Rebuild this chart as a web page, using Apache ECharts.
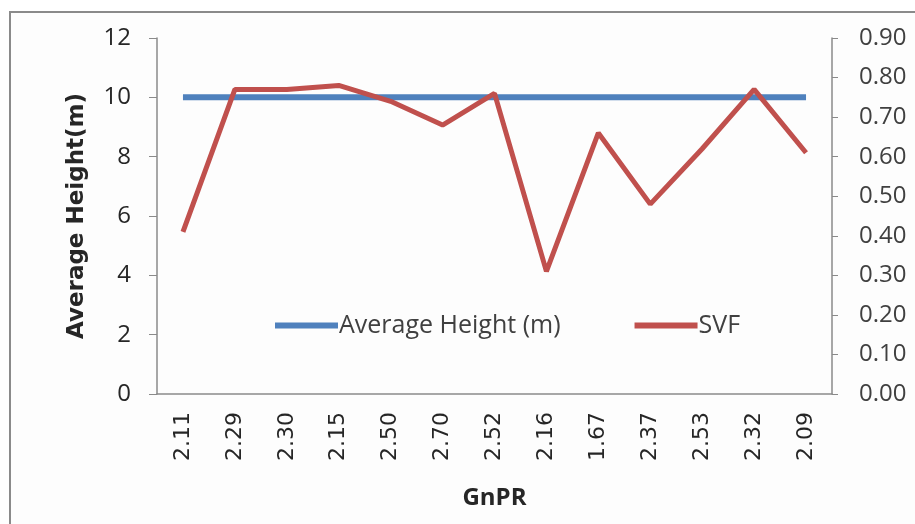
<!DOCTYPE html>
<html>
<head>
<meta charset="utf-8">
<script src="https://cdn.jsdelivr.net/npm/echarts@6/dist/echarts.min.js"></script>
<style>
html,body{margin:0;padding:0;background:#fff;}
#c{width:915px;height:524px;}
</style>
</head>
<body>
<div id="c"></div>
<script>
var categories = ['2.11','2.29','2.30','2.15','2.50','2.70','2.52','2.16','1.67','2.37','2.53','2.32','2.09'];
var avgHeight = [10,10,10,10,10,10,10,10,10,10,10,10,10];
var svf = [0.41,0.77,0.77,0.78,0.74,0.68,0.76,0.31,0.66,0.48,0.62,0.77,0.61];
var leftTicks = [0,12,2];
var rightTicks = [0,0.9,0.1];

var narrow = "'Liberation Sans Narrow','Open Sans',sans-serif";
var chart = echarts.init(document.getElementById('c'), null, {renderer:'canvas'});
chart.setOption({
  backgroundColor:'#ffffff',
  animation:false,
  graphic:[{type:'rect',shape:{x:10,y:12,width:920,height:530},style:{fill:'#fdfdfd',stroke:'#8a8a8a',lineWidth:2},z:-10}],
  grid:{left:157,right:83,top:38,bottom:130,containLabel:false},
  legend:{
    top:308,left:270,
    data:['Average Height (m)','SVF'],
    icon:'rect',itemWidth:63,itemHeight:6,itemGap:74,
    textStyle:{fontFamily:narrow,fontSize:25,color:'#404040',padding:[0,0,0,-4]}
  },
  xAxis:{
    type:'category',data:categories,boundaryGap:true,
    name:'GnPR',nameLocation:'middle',nameGap:92,
    nameTextStyle:{fontFamily:narrow,fontSize:24,fontWeight:'bold',color:'#262626'},
    axisLine:{lineStyle:{color:'#8a8a8a',width:1.5}},
    axisTick:{show:false},
    axisLabel:{rotate:90,margin:18,fontFamily:"'DejaVu Sans',sans-serif",fontSize:22,color:'#262626'}
  },
  yAxis:[{
    type:'value',min:leftTicks[0],max:leftTicks[1],interval:leftTicks[2],
    name:'Average Height(m)',nameLocation:'middle',nameGap:68,nameRotate:90,
    nameTextStyle:{fontFamily:"'DejaVu Sans',sans-serif",fontSize:23,fontWeight:'bold',color:'#262626'},
    axisLine:{show:true,lineStyle:{color:'#8a8a8a',width:1.5}},
    axisTick:{show:true,inside:false,length:8,lineStyle:{color:'#8a8a8a'}},
    splitLine:{show:false},
    axisLabel:{margin:26,fontFamily:narrow,fontSize:24,color:'#262626'}
  },{
    type:'value',min:rightTicks[0],max:rightTicks[1],interval:rightTicks[2],position:'right',
    axisLine:{show:true,lineStyle:{color:'#8a8a8a',width:1.5}},
    axisTick:{show:true,length:6,lineStyle:{color:'#8a8a8a'}},
    splitLine:{show:false},
    axisLabel:{margin:27,fontFamily:narrow,fontSize:24,color:'#404040',
      formatter:function(v){return v.toFixed(2);}}
  }],
  series:[{
    name:'Average Height (m)',type:'line',yAxisIndex:0,data:avgHeight,
    symbol:'none',lineStyle:{color:'#4f81bd',width:6},itemStyle:{color:'#4f81bd'}
  },{
    name:'SVF',type:'line',yAxisIndex:1,data:svf,
    symbol:'none',lineStyle:{color:'#c0504d',width:5},itemStyle:{color:'#c0504d'}
  }]
});
</script>
</body>
</html>
